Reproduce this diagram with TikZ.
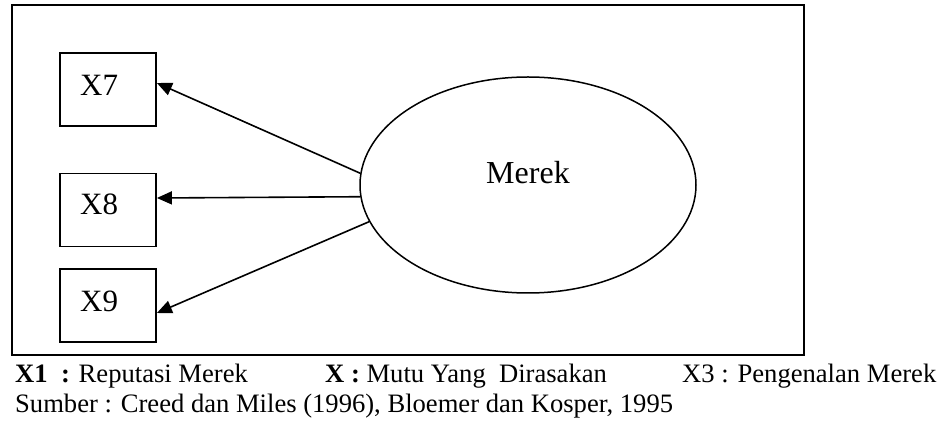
\documentclass[tikz,border=0pt]{standalone}
\usepackage{fontspec}
\setmainfont{Liberation Serif}
\usetikzlibrary{shapes.geometric,arrows.meta}

\begin{document}
\begin{tikzpicture}[x=1pt,y=-1pt,
  frameline/.style={line width=2pt},
  indicator/.style={draw,line width=1.8pt,minimum width=96pt,minimum height=73pt,inner sep=0pt},
  boxlabel/.style={anchor=base west,inner sep=0pt,font=\fontsize{31}{37}\selectfont},
  construct/.style={draw,ellipse,line width=1.5pt,minimum width=336pt,minimum height=216pt,inner sep=0pt},
  loading/.style={line width=1.6pt,-{Triangle[length=15pt,width=13pt]}},
  caption/.style={anchor=base west,inner sep=0pt,font=\fontsize{26.6}{32}\selectfont}]

  \useasboundingbox (0,0) rectangle (940,435);

  % outer frame
  \draw[frameline] (12,5.5) rectangle (804,355.5);

  % indicator boxes
  \node[indicator] (x7) at (108,89.5) {};
  \node[indicator] (x8) at (108,210) {};
  \node[indicator] (x9) at (108,305.5) {};
  \node[boxlabel] (t7) at (80,96) {X7};
  \node[boxlabel] (t8) at (80,215) {X8};
  \node[boxlabel] (t9) at (80,312) {X9};

  % latent construct
  \node[construct] (m) at (528,185) {};
  \node[anchor=base,inner sep=0pt,font=\fontsize{32}{38}\selectfont] (mlabel) at (528,184) {Merek};

  % loadings
  \draw[loading] (m.176) -- ([yshift=6.5pt]x7.east);
  \draw[loading] (m.184.4) -- ([yshift=12pt]x8.east);
  \draw[loading] (m.193.3) -- ([yshift=-7.5pt]x9.east);

  % legend and source
  \node[caption] (c1) at (15,383) {\textbf{X1\ \ :} Reputasi Merek};
  \node[caption] (c2) at (325,383) {\textbf{X :} Mutu Yang\ \ Dirasakan};
  \node[caption] (c3) at (682,383) {X3 : Pengenalan Merek};
  \node[caption] (src) at (15,413) {Sumber : Creed dan Miles (1996), Bloemer dan Kosper, 1995};
\end{tikzpicture}
\end{document}
